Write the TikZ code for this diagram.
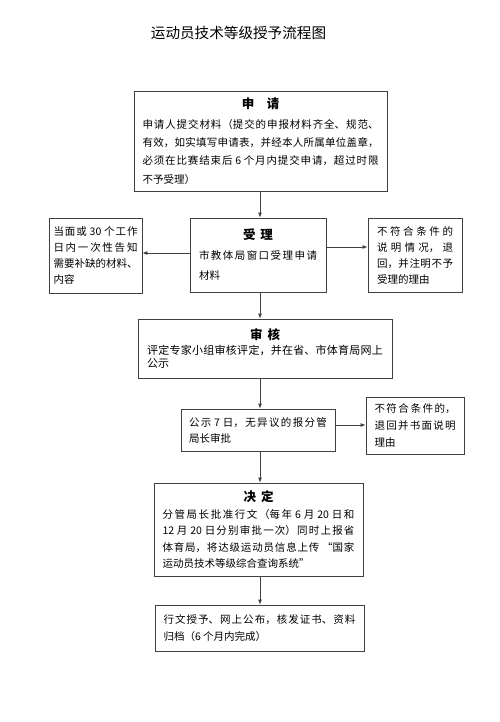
\documentclass[tikz,border=0pt]{standalone}
\usepackage{fontspec}
\setmainfont{Noto Sans CJK SC}
\usetikzlibrary{arrows.meta}
\XeTeXlinebreaklocale "zh"
\XeTeXlinebreakskip=0pt plus 3pt
\setlength{\parindent}{0pt}

\newcommand{\boxhead}[2][1em]{{\centering\fontsize{12.5}{12.5}\bfseries #2\par}\vspace{#1}}

\begin{document}
\begin{tikzpicture}[x=1pt,y=-1pt,
  box/.style={draw=black!75,line width=0.8pt,inner ysep=0pt,align=justify},
  >={Latex[length=5pt,width=4pt]}]
  \useasboundingbox (0,0) rectangle (500,722);
  \coordinate (spine) at (260,0);

  \node (title) at (238.5,33) {\fontsize{14.6}{16}\selectfont 运动员技术等级授予流程图};

  % main column
  \node[box,text width=236pt,inner xsep=8.5pt,minimum height=100pt,
    font=\fontsize{10.5}{18.3}\selectfont] (sq) at (260.5,141)
    {\boxhead[1.7pt]{申\hspace{1em}请}%
     申请人提交材料（提交的申报材料齐全、规范、\linebreak
     有效，如实填写申请表，并经本人所属单位盖章，\linebreak
     必须在比赛结束后 6 个月内提交申请，超过时限\linebreak
     不予受理）};
  \node[box,text width=118pt,inner xsep=9pt,minimum height=74pt,
    font=\fontsize{10.5}{20}\selectfont] (sl) at (258,255)
    {\boxhead[0pt]{受\hspace{0.4em}理}%
     市教体局窗口受理申请\linebreak 材料};
  \node[box,text width=236pt,inner xsep=9pt,minimum height=59pt,
    font=\fontsize{11}{13}\selectfont] (sh) at (265,348.5)
    {\boxhead[2pt]{审\hspace{0.4em}核}%
     评定专家小组审核评定，并在省、市体育局网上\linebreak 公示};
  \node[box,text width=138pt,inner xsep=8pt,minimum height=42pt,
    font=\fontsize{10.5}{16}\selectfont] (gs) at (258,430)
    {公示 7 日，无异议的报分管\linebreak 局长审批};
  \node[box,text width=192pt,inner xsep=8.5pt,minimum height=93pt,
    font=\fontsize{10.5}{16.5}\selectfont] (jd) at (258.5,529.5)
    {\boxhead[0.5pt]{决\hspace{0.4em}定}%
     分管局长批准行文（每年 6 月 20 日和\linebreak
     12 月 20 日分别审批一次）同时上报省\linebreak
     体育局，将达级运动员信息上传 “国家\linebreak
     运动员技术等级综合查询系统”};
  \node[box,text width=192pt,inner xsep=8.5pt,minimum height=46pt,
    font=\fontsize{10.5}{17}\selectfont] (fz) at (259.5,628)
    {行文授予、网上公布，核发证书、资料\linebreak
     归档（6 个月内完成）};

  % side boxes
  \node[box,text width=84pt,inner xsep=4.5pt,minimum height=75pt,
    font=\fontsize{10.5}{16.3}\selectfont] (bz) at (95.5,255.5)
    {当面或 30 个工作\linebreak 日内一次性告知\linebreak
     需要补缺的材料、\linebreak 内容};
  \node[box,text width=76pt,inner xsep=9pt,minimum height=74pt,
    font=\fontsize{10.5}{16}\selectfont] (bh) at (415,255)
    {不符合条件的\linebreak 说明情况，退\linebreak
     回，并注明不予\linebreak 受理的理由};
  \node[box,text width=81pt,inner xsep=8.5pt,minimum height=57pt,
    font=\fontsize{10.5}{17}\selectfont] (th) at (415,425.5)
    {不符合条件的，\linebreak 退回并书面说明\linebreak 理由};

  % arrows
  \draw[->,black!75,line width=0.8pt] (sq.south -| spine) -- (sl.north -| spine);
  \draw[->,black!75,line width=0.8pt] (sl.south -| spine) -- (sh.north -| spine);
  \draw[->,black!75,line width=0.8pt] (sh.south -| spine) -- (gs.north -| spine);
  \draw[->,black!75,line width=0.8pt] (gs.south -| spine) -- (jd.north -| spine);
  \draw[->,black!75,line width=0.8pt] (jd.south -| spine) -- (fz.north -| spine);
  \draw[->,black!75,line width=0.8pt] ([yshift=2pt]sl.west) -- ([yshift=2pt]sl.west -| bz.east);
  \draw[->,black!75,line width=0.8pt] ([yshift=8pt]sl.east) -- ([yshift=8pt]sl.east -| bh.west);
  \draw[->,black!75,line width=0.8pt] ([yshift=5pt]gs.east) -- ([yshift=5pt]gs.east -| th.west);
\end{tikzpicture}
\end{document}
